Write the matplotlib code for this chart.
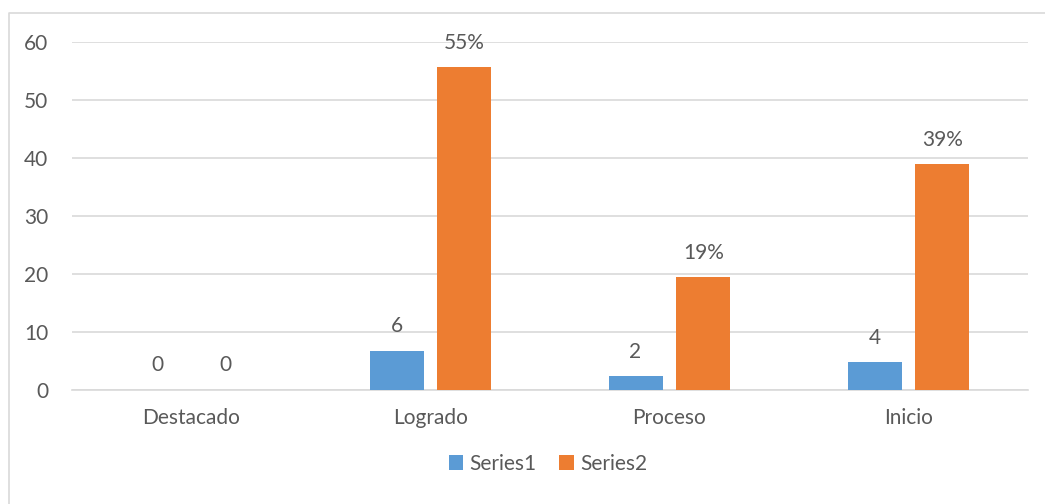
import numpy as np
import matplotlib.pyplot as plt
from matplotlib.lines import Line2D

plt.rcParams['font.family'] = ['Lato', 'DejaVu Sans']

# Chart data
categories = ['Destacado', 'Logrado', 'Proceso', 'Inicio']
series1 = [0, 6.7, 2.3, 4.7]
series2 = [0, 55.6, 19.4, 38.9]
labels1 = ['0', '6', '2', '4']
labels2 = ['0', '55%', '19%', '39%']

BLUE = '#5B9BD5'
ORANGE = '#ED7D31'
TEXT = '#595959'
GRID = '#D9D9D9'
FS = 15

fig = plt.figure(figsize=(10.45, 5.04), dpi=100)
ax = fig.add_axes([72 / 1045, 1 - 389.5 / 504, 956 / 1045, 348 / 504])

# chart border (only top and left edges are in the frame)
fig.lines.append(Line2D([8.5 / 1045, 8.5 / 1045, 1], [0, 1 - 12.5 / 504, 1 - 12.5 / 504],
                        transform=fig.transFigure, color=GRID, linewidth=1.2))

x = np.arange(len(categories))
width = 0.226
offset = 0.142

b1 = ax.bar(x - offset, series1, width, color=BLUE, label='Series1', zorder=3)
b2 = ax.bar(x + offset, series2, width, color=ORANGE, label='Series2', zorder=3)

for bars, labs in ((b1, labels1), (b2, labels2)):
    for rect, lab in zip(bars, labs):
        ax.annotate(lab, (rect.get_x() + rect.get_width() / 2, rect.get_height()),
                    xytext=(0, 17.5), textcoords='offset points',
                    ha='center', va='center', fontsize=FS, color=TEXT)

ax.set_xlim(-0.5, len(categories) - 0.5)
ax.set_ylim(0, 60)
ax.set_yticks(np.arange(0, 61, 10))
ax.set_xticks(x)
ax.set_xticklabels(categories)
ax.yaxis.grid(True, color=GRID, linewidth=1.2, zorder=0)
ax.set_axisbelow(True)
for s in ax.spines.values():
    s.set_visible(False)
ax.spines['bottom'].set_visible(True)
ax.spines['bottom'].set_color(GRID)
ax.spines['bottom'].set_linewidth(1.2)
ax.tick_params(axis='both', length=0, labelsize=FS, colors=TEXT)
ax.tick_params(axis='y', pad=17)
ax.tick_params(axis='x', pad=13)

leg = fig.legend(loc='center', bbox_to_anchor=(548 / 1045, 1 - 464 / 504), ncol=2,
                 frameon=False, fontsize=FS, handlelength=0.7, handleheight=0.7,
                 handletextpad=0.3, columnspacing=1.1)
for t in leg.get_texts():
    t.set_color(TEXT)

fig.savefig('out.png', dpi=100)
